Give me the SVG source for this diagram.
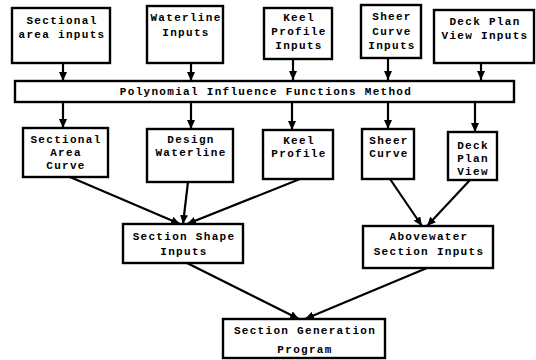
<svg xmlns="http://www.w3.org/2000/svg" width="536" height="360" viewBox="0 0 536 360">
<defs>
<style>
.box{fill:#fff;stroke:#000;stroke-width:2.4}
.t{font-family:"Liberation Mono","DejaVu Sans Mono",monospace;font-weight:bold;font-size:11px;letter-spacing:1.3px;fill:#000;text-anchor:middle;dominant-baseline:central}
.c{stroke:#000;stroke-width:2.2;fill:none;marker-end:url(#ah)}
</style>
<marker id="ah" markerUnits="userSpaceOnUse" markerWidth="10" markerHeight="8" refX="9" refY="4" orient="auto">
<path d="M0,0 L9,4 L0,8 Z" fill="#000"/>
</marker>
</defs>
<rect width="536" height="360" fill="#fff"/>
<g id="connectors">
<line class="c" x1="63" y1="63" x2="63" y2="81"/>
<line class="c" x1="191" y1="63" x2="191" y2="81"/>
<line class="c" x1="293" y1="59" x2="293" y2="80"/>
<line class="c" x1="388" y1="58" x2="388" y2="80"/>
<line class="c" x1="481" y1="63" x2="481" y2="80"/>
<line class="c" x1="63" y1="102" x2="63" y2="128"/>
<line class="c" x1="191" y1="102" x2="191" y2="129"/>
<line class="c" x1="292" y1="102" x2="292" y2="130"/>
<line class="c" x1="388" y1="102" x2="388" y2="129"/>
<line class="c" x1="475" y1="102" x2="475" y2="132"/>
<line class="c" x1="70" y1="177" x2="180" y2="224"/>
<line class="c" x1="188" y1="182" x2="183" y2="224"/>
<line class="c" x1="300" y1="179" x2="187" y2="224"/>
<line class="c" x1="390" y1="179" x2="422" y2="226"/>
<line class="c" x1="470" y1="180" x2="427" y2="226"/>
<line class="c" x1="187" y1="263" x2="299" y2="319"/>
<line class="c" x1="427" y1="268" x2="305" y2="319"/>
</g>
<g id="sectional-area-inputs">
<rect class="box" x="12" y="8" width="98" height="55"/>
<text class="t" x="62" y="21">Sectional</text>
<text class="t" x="62" y="35">area inputs</text>
</g>
<g id="waterline-inputs">
<rect class="box" x="147" y="6" width="76" height="57"/>
<text class="t" x="186" y="18">Waterline</text>
<text class="t" x="186" y="33">Inputs</text>
</g>
<g id="keel-profile-inputs">
<rect class="box" x="264" y="8" width="68" height="51"/>
<text class="t" x="299" y="18">Keel</text>
<text class="t" x="299" y="32">Profile</text>
<text class="t" x="299" y="46">Inputs</text>
</g>
<g id="sheer-curve-inputs">
<rect class="box" x="361" y="5" width="60" height="53"/>
<text class="t" x="392" y="17">Sheer</text>
<text class="t" x="392" y="32">Curve</text>
<text class="t" x="392" y="46">Inputs</text>
</g>
<g id="deck-plan-view-inputs">
<rect class="box" x="434" y="10" width="100" height="53"/>
<text class="t" x="485" y="22">Deck Plan</text>
<text class="t" x="485" y="36">View Inputs</text>
</g>
<g id="polynomial-method">
<rect class="box" x="15" y="81" width="499" height="21"/>
<text class="t" x="266" y="91.5">Polynomial Influence Functions Method</text>
</g>
<g id="sectional-area-curve">
<rect class="box" x="23" y="128" width="85" height="49"/>
<text class="t" x="66" y="140">Sectional</text>
<text class="t" x="66" y="153">Area</text>
<text class="t" x="66" y="166">Curve</text>
</g>
<g id="design-waterline">
<rect class="box" x="147" y="129" width="86" height="53"/>
<text class="t" x="191" y="140">Design</text>
<text class="t" x="191" y="153">Waterline</text>
</g>
<g id="keel-profile">
<rect class="box" x="263" y="130" width="70" height="49"/>
<text class="t" x="299" y="141">Keel</text>
<text class="t" x="299" y="154">Profile</text>
</g>
<g id="sheer-curve">
<rect class="box" x="362" y="129" width="52" height="50"/>
<text class="t" x="389" y="141">Sheer</text>
<text class="t" x="389" y="154">Curve</text>
</g>
<g id="deck-plan-view">
<rect class="box" x="448" y="132" width="49" height="48"/>
<text class="t" x="473" y="146">Deck</text>
<text class="t" x="473" y="159">Plan</text>
<text class="t" x="473" y="172">View</text>
</g>
<g id="section-shape-inputs">
<rect class="box" x="123" y="224" width="120" height="39"/>
<text class="t" x="184" y="237">Section Shape</text>
<text class="t" x="184" y="252">Inputs</text>
</g>
<g id="abovewater-section-inputs">
<rect class="box" x="363" y="226" width="130" height="42"/>
<text class="t" x="429" y="237">Abovewater</text>
<text class="t" x="429" y="252">Section Inputs</text>
</g>
<g id="section-generation-program">
<rect class="box" x="223" y="319" width="162" height="39"/>
<text class="t" x="305" y="331">Section Generation</text>
<text class="t" x="305" y="350">Program</text>
</g>
</svg>
